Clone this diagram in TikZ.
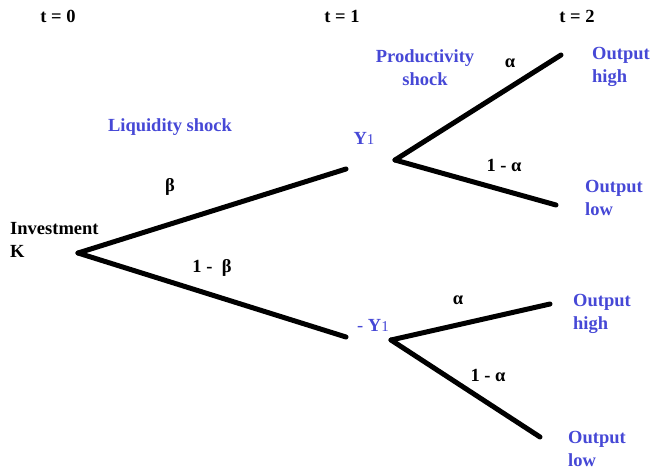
\documentclass[tikz,border=0pt]{standalone}
\usepackage{fontspec}
\setmainfont{Liberation Serif}
\usepackage{xcolor}
\usetikzlibrary{positioning}
\definecolor{shockblue}{RGB}{70,72,214}
\newcommand{\sone}{{\mdseries\fontsize{15}{15}\selectfont 1}}

\begin{document}
\begin{tikzpicture}[
    x=1pt,
    y=-1pt,
    branch/.style={line width=5pt, line cap=round},
    lbl/.style={font=\fontsize{18.5}{22.5}\selectfont\bfseries, inner sep=0pt},
    bluelbl/.style={lbl, text=shockblue},
    outcome/.style={bluelbl, align=left, anchor=base west},
    every edge/.style={draw, branch}
  ]
  \useasboundingbox (0,0) rectangle (654,471);
  % time line
  \node[lbl] (t0) at (58,16) {t = 0};
  \node[lbl] (t1) at (342,16) {t = 1};
  \node[lbl] (t2) at (577,16) {t = 2};
  % forks and branch ends
  \coordinate (root) at (78,253);
  \coordinate (upend) at (346,169);
  \coordinate (downend) at (346,337);
  \coordinate (yfork) at (395,160);
  \coordinate (nyfork) at (391,340);
  \coordinate (highA) at (561,55);
  \coordinate (lowA) at (556,205);
  \coordinate (highB) at (550,304);
  \coordinate (lowB) at (540,437);
  \path (root) edge (upend)
        (root) edge (downend);
  \path (yfork) edge (highA)
        (yfork) edge (lowA)
        (nyfork) edge (highB)
        (nyfork) edge (lowB);
  % labels (multi-line nodes sit on the base of their last line)
  \node[lbl, align=left, anchor=base west] (invest) at (10,257) {Investment\\K};
  \node[bluelbl] (liquid) at (170,127) {Liquidity shock};
  \node[lbl] (beta) at (170,187) {β};
  \node[lbl] (nbeta) at (212,268) {1 -\ \ β};
  \node[bluelbl] (yone) at (364,138) {Y\sone};
  \node[bluelbl] (nyone) at (373,325) {\mdseries -\ \bfseries Y\sone};
  \node[bluelbl, align=center, anchor=base] (prod) at (425,85) {Productivity\\shock};
  \node[lbl] (alphaA) at (510,63) {α};
  \node[lbl] (nalphaA) at (504,165) {1 - α};
  \node[lbl] (alphaB) at (458,300) {α};
  \node[lbl] (nalphaB) at (488,375) {1 - α};
  \node[outcome] (outhighA) at (592,82) {Output\\high};
  \node[outcome] (outlowA) at (585,215) {Output\\low};
  \node[outcome] (outhighB) at (573,329) {Output\\high};
  \node[outcome] (outlowB) at (568,466) {Output\\low};
\end{tikzpicture}
\end{document}
